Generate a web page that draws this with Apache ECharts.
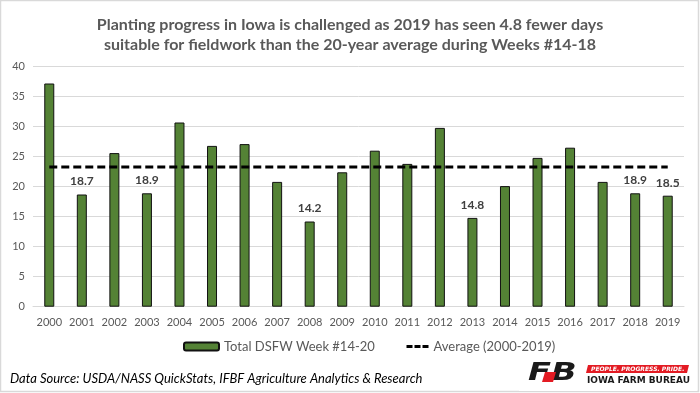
<!DOCTYPE html>
<html>
<head>
<meta charset="utf-8">
<script src="https://cdn.jsdelivr.net/npm/echarts@6/dist/echarts.min.js"></script>
<style>
html,body{margin:0;padding:0;background:#fff;}
#chart{width:700px;height:393px;}
</style>
</head>
<body>
<div id="chart"></div>
<script>
var years = ['2000','2001','2002','2003','2004','2005','2006','2007','2008','2009','2010','2011','2012','2013','2014','2015','2016','2017','2018','2019'];
var dsfw = [37.2,18.7,25.6,18.9,30.7,26.8,27.1,20.8,14.2,22.4,26.0,23.8,29.8,14.8,20.1,24.8,26.5,20.8,18.9,18.5];
var average = 23.3;
var labelledYears = ['2001','2003','2008','2013','2018','2019'];
var yTicks = {min:0, max:40, step:5};
var titleLines = ['Planting progress in Iowa is challenged as 2019 has seen 4.8 fewer days','suitable for fieldwork than the 20-year average during Weeks #14-18'];
var seriesNames = ['Total DSFW Week #14-20','Average (2000-2019)'];
var sourceText = 'Data Source: USDA/NASS QuickStats, IFBF Agriculture Analytics & Research';

var FONT = 'Lato, "Open Sans", sans-serif';
var chart = echarts.init(document.getElementById('chart'), null, {renderer:'canvas'});

var barData = dsfw.map(function(v,i){
  var show = labelledYears.indexOf(years[i]) >= 0;
  return {value:v, label:{show:show}};
});
var avgData = years.map(function(){return average;});

chart.setOption({
  backgroundColor:'#ffffff',
  animation:false,
  title:{
    text: titleLines.join('\n'),
    left:'center', top:10,
    textStyle:{fontFamily:FONT, fontSize:16, fontWeight:'bold', color:'#595959', lineHeight:20}
  },
  grid:{left:33, right:16, top:66.7, bottom:86.3},
  legend:[
    {data:[seriesNames[0]], left:183, top:340, padding:0, itemWidth:35, itemHeight:8,
     textStyle:{fontFamily:FONT, fontSize:13, color:'#595959'}},
    {data:[seriesNames[1]], left:405, top:340, padding:0, itemWidth:22, itemHeight:8,
     itemStyle:{color:'transparent', borderColor:'transparent', borderWidth:0, opacity:0},
     lineStyle:{color:'#000', width:3, type:[6,2]},
     textStyle:{fontFamily:FONT, fontSize:13, color:'#595959'}}
  ],
  xAxis:{
    type:'category', data:years, boundaryGap:true,
    axisLine:{show:true, lineStyle:{color:'#d9d9d9', width:1}},
    axisTick:{show:false},
    axisLabel:{fontFamily:FONT, fontSize:11, color:'#595959', margin:10, interval:0}
  },
  yAxis:{
    type:'value', min:yTicks.min, max:yTicks.max, interval:yTicks.step,
    axisLine:{show:false}, axisTick:{show:false},
    splitLine:{lineStyle:{color:'#d9d9d9', width:1}},
    axisLabel:{fontFamily:FONT, fontSize:11, color:'#595959', margin:8}
  },
  series:[
    {name:seriesNames[0], type:'bar', data:barData, barWidth:10,
     itemStyle:{color:'#548235', borderColor:'#111', borderWidth:1},
     label:{position:'top', distance:7, fontFamily:FONT, fontSize:12, fontWeight:'bold', color:'#404040',
       formatter:function(p){return p.value.toFixed(1);}}
    },
    {name:seriesNames[1], type:'line', data:avgData, symbol:'none', showSymbol:false, z:5,
     itemStyle:{color:'#000'},
     lineStyle:{color:'#000', width:3, type:[8,4]}
    }
  ],
  graphic:[
    {type:'rect', shape:{x:0.5, y:0.5, width:698, height:391}, style:{fill:'none', stroke:'#d9d9d9', lineWidth:1.5}, silent:true},
    {type:'text', left:10, top:372, style:{text:sourceText, font:'italic 13px '+FONT, fill:'#000'}},
    {type:'rect', shape:{x:519, y:358, width:178, height:33}, style:{fill:'#fff'}},
    {type:'text', x:528, y:361, scaleX:1.35, style:{text:'FB', font:'italic 900 25px "DejaVu Sans", sans-serif', fill:'#1a1a1a'}},
    {type:'polygon', shape:{points:[[545,372],[556,372],[553,382],[542,382]]}, style:{fill:'#e31b23'}},
    {type:'polygon', shape:{points:[[588,365],[689,365],[687,373],[586,373]]}, style:{fill:'#e31b23'}},
    {type:'text', x:591, y:366.3, style:{text:'PEOPLE. PROGRESS. PRIDE.', font:'italic bold 6px "DejaVu Sans", sans-serif', fill:'#fff'}},
    {type:'text', x:587, y:376, style:{text:'IOWA FARM BUREAU', font:'bold 9px "DejaVu Sans", sans-serif', fill:'#1a1a1a'}}
  ]
});
</script>
</body>
</html>
